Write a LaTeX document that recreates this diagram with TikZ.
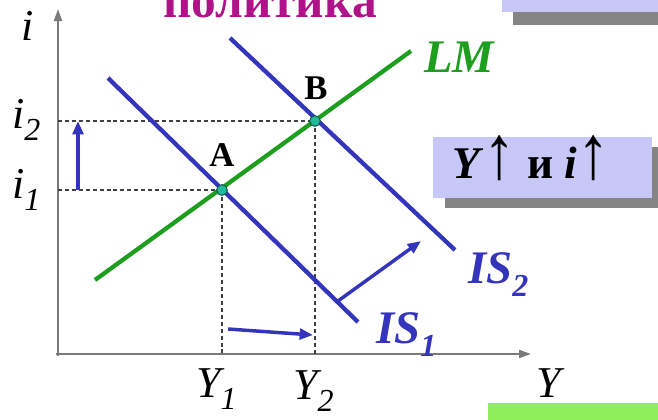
\documentclass[tikz,border=0pt]{standalone}
\usepackage{fontspec}
\setmainfont{Liberation Serif}
\usetikzlibrary{arrows.meta}
\definecolor{isblue}{HTML}{3434BC}
\definecolor{lmgreen}{HTML}{1E9E1E}
\definecolor{dotfill}{HTML}{22BB99}
\definecolor{dotline}{HTML}{0E5E4E}
\definecolor{lav}{HTML}{C8C8F8}
\definecolor{shadowgray}{HTML}{858585}
\definecolor{axisgray}{HTML}{7A7A7A}
\definecolor{titlemag}{HTML}{B0128A}
\definecolor{lgreen}{HTML}{90EE58}
\tikzset{
  axisline/.style={draw=axisgray,line width=1.5pt,-{Triangle[length=9pt,width=6pt]}},
  guide/.style={draw=black!75,line width=0.9pt,dash pattern=on 3pt off 2.2pt},
  curveis/.style={draw=isblue,line width=3.2pt},
  curvelm/.style={draw=lmgreen,line width=3.2pt},
  shiftarrow/.style={draw=isblue,line width=2.6pt,-{Triangle[length=10pt,width=8pt]}},
  eqdot/.style={circle,fill=dotfill,draw=dotline,line width=0.8pt,inner sep=0pt,minimum size=8pt},
  lbl/.style={inner sep=0pt,font=\fontsize{33}{33}\selectfont\itshape},
  curvelbl/.style={inner sep=0pt,font=\fontsize{35}{35}\selectfont\bfseries\itshape},
  ptlbl/.style={inner sep=0pt,font=\fontsize{26}{26}\selectfont\bfseries},
}
\newcommand{\lowsub}[1]{\raisebox{-0.28em}{\fontsize{24}{24}\selectfont #1}}
\newcommand{\uparr}{{\fontsize{44}{44}\selectfont\bfseries\scalebox{1.1}[1.3]{↑}}}
\begin{document}
\begin{tikzpicture}[x=0.75pt,y=-0.75pt]
\useasboundingbox (0,0) rectangle (658,419);
\clip (0,0) rectangle (658,419);
% decorative boxes
\fill[shadowgray] (513,12) rectangle (670,25);
\fill[lav] (502,-5) rectangle (670,12);
\fill[lgreen] (488,403) rectangle (670,425);
% title
\node[anchor=base,inner sep=0pt,text=titlemag,font=\fontsize{37}{37}\selectfont\bfseries] (title) at (270,17) {политика};
% axes
\coordinate (O) at (58,354);
\coordinate (ytop) at (58,9);
\coordinate (xend) at (531,354);
\draw[axisline] (58,356) -- (ytop);
\draw[axisline] (56,354) -- (xend);
% equilibrium points
\coordinate (A) at (222,190);
\coordinate (B) at (315,121);
\coordinate (i1) at (58,190);
\coordinate (i2) at (58,121);
\coordinate (Y1) at (222,354);
\coordinate (Y2) at (315,354);
\draw[guide] (i2) -- (B);
\draw[guide] (i1) -- (A);
\draw[guide] (A) -- (Y1);
\draw[guide] (B) -- (Y2);
% curves
\coordinate (is1a) at (108,78);
\coordinate (is1b) at (358,322);
\coordinate (is2a) at (230,38);
\coordinate (is2b) at (455,250);
\coordinate (lma) at (95,280);
\coordinate (lmb) at (411,51);
\draw[curveis] (is1a) -- (is1b);
\draw[curveis] (is2a) -- (is2b);
\draw[curvelm] (lma) -- (lmb);
\node[eqdot] (Adot) at (A) {};
\node[eqdot] (Bdot) at (B) {};
% shift arrows
\coordinate (ua) at (78,190);
\coordinate (ub) at (78,121);
\coordinate (ra) at (228,329);
\coordinate (rb) at (313,335);
\coordinate (da) at (338,301);
\coordinate (db) at (421,241);
\draw[shiftarrow] (ua) -- (ub);
\draw[shiftarrow] (ra) -- (rb);
\draw[shiftarrow] (da) -- (db);
% labels
\node[lbl,anchor=base west] (ilbl) at (21,40) {i};
\node[lbl,anchor=base west] (i2lbl) at (12,128) {i\lowsub{2}};
\node[lbl,anchor=base west] (i1lbl) at (12,198) {i\lowsub{\itshape 1}};
\node[lbl,anchor=base west] (Y1lbl) at (196,397) {Y\lowsub{\itshape 1}};
\node[lbl,anchor=base west] (Y2lbl) at (293,399) {Y\lowsub{2}};
\node[lbl,anchor=base west] (Ylbl) at (536,397) {Y};
\node[curvelbl,text=lmgreen,anchor=base west] (LMlbl) at (424,72) {LM};
\node[curvelbl,text=isblue,anchor=base west] (IS2lbl) at (468,283) {IS\lowsub{2}};
\node[curvelbl,text=isblue,anchor=base west] (IS1lbl) at (376,343) {IS\lowsub{1}};
\node[ptlbl,anchor=base] (Alb) at (222,166) {A};
\node[ptlbl,anchor=base] (Blb) at (316,99) {B};
% result box
\fill[shadowgray] (445,147) rectangle (670,208);
\fill[lav] (433,137) rectangle (652,198);
\node[anchor=base west,inner sep=0pt,font=\fontsize{34}{34}\selectfont\bfseries] (res) at (452,178) {\textit{Y}\uparr\ и \textit{i}\uparr};
\end{tikzpicture}
\end{document}
